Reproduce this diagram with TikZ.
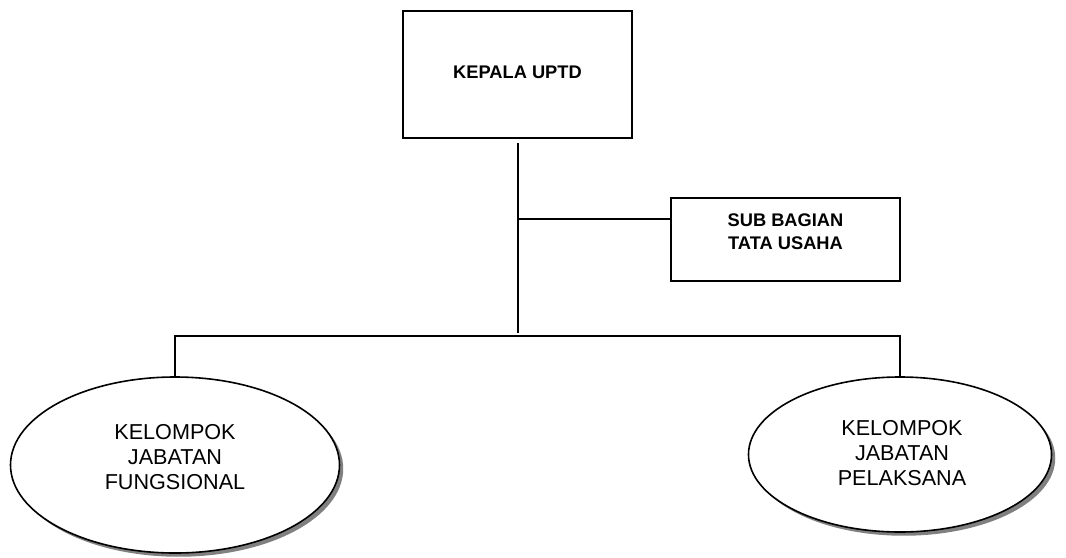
\documentclass[tikz,border=0pt]{standalone}
\usepackage{fontspec}
\setmainfont{Liberation Sans}
\usetikzlibrary{shapes.geometric,shadows}
\begin{document}
\begin{tikzpicture}[x=0.75pt, y=-0.75pt, line width=1.2pt,
        unitbox/.style={draw, rectangle, inner sep=0pt, minimum width=171.75pt},
        unitoval/.style={draw, ellipse, fill=white, inner sep=0pt,
            drop shadow={shadow xshift=2.8pt, shadow yshift=-2.8pt, fill=black!50, opacity=1}},
        boxtext/.style={align=center, font=\fontsize{13.7}{17.25}\selectfont\bfseries},
        ovaltext/.style={align=center, font=\fontsize{16.2}{18.75}\selectfont}]
            \useasboundingbox (0,0) rectangle (1066,557);
            \node[unitbox, minimum height=95.25pt] (kepala) at (517.5,74.5) {};
            \node[boxtext] at (517.5,72) {KEPALA UPTD};
            \node[unitbox, minimum height=62.25pt] (subbagian) at (785.5,239.5) {};
            \node[boxtext] at (785.5,231.5) {SUB BAGIAN\\TATA USAHA};
            \node[unitoval, minimum width=246.75pt, minimum height=132pt] (fungsional) at (175,465) {};
            \node[ovaltext] at (175,457) {KELOMPOK\\JABATAN\\FUNGSIONAL};
            \node[unitoval, minimum width=227.25pt, minimum height=116.25pt] (pelaksana) at (900,454.5) {};
            \node[ovaltext] at (902,453) {KELOMPOK\\JABATAN\\PELAKSANA};
            \coordinate (trunk) at (518,143);
            \coordinate (branch) at (518,219);
            \coordinate (bar) at (518,336);
            \draw (trunk) -- ([yshift=2pt]bar);
            \draw (branch) -- (subbagian.west |- branch);
            \draw (fungsional.north) |- (bar) -| (pelaksana.north);
\end{tikzpicture}
\end{document}
